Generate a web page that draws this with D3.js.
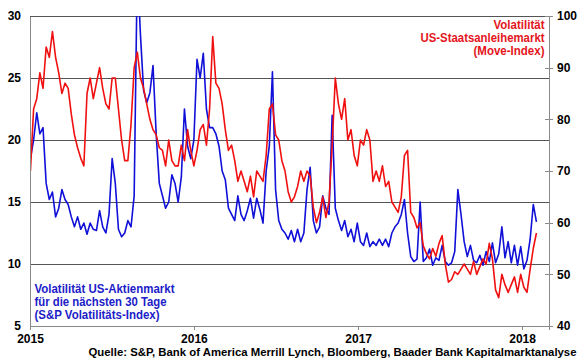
<!DOCTYPE html>
<html><head><meta charset="utf-8">
<script src="https://cdn.jsdelivr.net/npm/d3@7"></script>
<style>
body{margin:0;background:#fff}
svg text{font-family:"Liberation Sans",Arial,sans-serif;font-weight:bold}
</style>
</head><body>
<svg id="chart" width="580" height="359"></svg>
<script>
// ---------- data (weekly, starting 2015-01-02) ----------
const startDate = "2015-01-02";
const vixValues = [
18.5,20.0,22.2,20.5,21.0,16.5,15.2,15.8,13.8,14.5,
16.0,15.2,14.8,13.8,13.0,13.8,12.8,13.3,12.4,13.3,
12.8,12.7,14.3,13.0,12.5,14.0,18.5,16.5,12.8,12.2,
12.5,13.5,13.0,15.5,34.0,28.5,24.0,23.0,23.8,26.0,
20.5,16.5,15.5,14.5,15.0,17.2,16.5,15.0,17.0,22.5,
19.5,18.5,20.0,26.5,25.0,27.0,22.5,21.0,21.0,20.5,
19.5,17.5,16.8,14.5,14.0,13.5,15.5,14.0,13.5,14.3,
15.3,13.7,15.3,14.4,13.3,17.5,19.5,25.5,16.0,13.5,
12.8,12.5,12.0,12.7,11.8,12.8,11.8,12.5,16.0,17.8,
13.5,12.5,13.0,15.5,14.5,14.0,22.0,14.5,13.5,12.7,
13.5,12.2,12.8,11.8,13.3,11.8,11.5,12.5,11.4,11.8,
11.5,12.0,11.5,12.0,11.4,12.5,13.0,13.3,14.0,15.2,
12.5,10.6,10.2,10.4,15.0,10.2,10.5,11.2,9.9,10.5,
10.3,11.5,10.2,9.9,10.1,11.0,16.0,14.0,11.8,10.6,
11.5,10.3,10.1,10.7,9.9,11.0,10.2,11.7,10.1,10.8,
13.0,10.5,11.8,10.1,11.5,9.9,11.4,9.6,10.3,12.0,
14.8,13.4
];
const moveValues = [
70,82,84,89,86,94,92,97,92,89,
85,87,86,81,77,74.5,72.5,71,85,88,
84,87,90,86,83,82,88,88,82,76,
72,72,79,90,93,88,86,83,80,78,
77,74.5,74,71,76,72,71,71,75,72,
78,74,71,74,78,79,75,82,96,87,
86,83,78,74,75,72,68,70,68,66,
69,65,70,69,68,73,82,83,77,76,
72,70,66,64,65,67,70,68,70,69,
63,60,62,65,61,64,75,88,83,80,
84,76,78,73,71,76,75,78,76,68,
70,68,71,67,68,64,63,62,65,73,
74,62,61,59,60,55.5,54,53,55,53.5,
56,57.5,52,48.5,49,50.5,50,51,52,51,
50,52.5,50,51.5,53,52,56,53,47,45.5,
50,48,46.5,48,49.5,46.5,50,47.5,46.5,51,
55,58
];
const leftTicks = [5,10,15,20,25,30];
const rightTicks = [40,50,60,70,80,90,100];
const yearTicks = ["2015-01-01","2016-01-01","2017-01-01","2018-01-01"];
const legendVix = ["Volatilität US-Aktienmarkt","für die nächsten 30 Tage","(S&P Volatilitäts-Index)"];
const legendMove = ["Volatilität","US-Staatsanleihemarkt","(Move-Index)"];
const sourceText = "Quelle: S&P, Bank of America Merrill Lynch, Bloomberg, Baader Bank Kapitalmarktanalyse";

// ---------- setup ----------
const parse = d3.utcParse("%Y-%m-%d");
const t0 = parse(startDate);
const weekDates = vixValues.map((_, i) => d3.utcDay.offset(t0, 7 * i));

const M = {left: 30, right: 549, top: 16, bottom: 326};
const svg = d3.select("#chart");

const x = d3.scaleUtc().domain([parse("2015-01-01"), parse("2018-03-02")]).range([M.left, M.right]);
const yL = d3.scaleLinear().domain([5, 30]).range([M.bottom, M.top]);
const yR = d3.scaleLinear().domain([40, 100]).range([M.bottom, M.top]);

const BLUE = "#1010d8", RED = "#f01010", GRID = "#555", AXIS = "#8a8a8a";
const FONT = '"Liberation Sans",Arial,sans-serif';

// gridlines
svg.append("g").selectAll("line").data(leftTicks.filter(d => d > 5)).join("line")
  .attr("x1", M.left).attr("x2", M.right)
  .attr("y1", d => yL(d)).attr("y2", d => yL(d))
  .attr("stroke", GRID).attr("stroke-width", 1).attr("shape-rendering", "crispEdges");

// clip
svg.append("clipPath").attr("id", "plotclip").append("rect")
  .attr("x", M.left).attr("y", M.top).attr("width", M.right - M.left).attr("height", M.bottom - M.top);

const lineV = d3.line().x((d, i) => x(weekDates[i])).y(d => yL(d));
const lineM = d3.line().x((d, i) => x(weekDates[i])).y(d => yR(d));

const plot = svg.append("g").attr("clip-path", "url(#plotclip)");
plot.append("path").datum(vixValues).attr("d", lineV)
  .attr("fill", "none").attr("stroke", BLUE).attr("stroke-width", 1.6).attr("stroke-linejoin", "round");
plot.append("path").datum(moveValues).attr("d", lineM)
  .attr("fill", "none").attr("stroke", RED).attr("stroke-width", 1.6).attr("stroke-linejoin", "round");

// left axis
const gL = svg.append("g").attr("transform", `translate(${M.left},0)`)
  .call(d3.axisLeft(yL).tickValues(leftTicks).tickSize(0).tickPadding(9).tickFormat(d3.format("d")));
gL.select(".domain").attr("stroke", AXIS).attr("shape-rendering", "crispEdges");
gL.selectAll("text").attr("font-size", 12).attr("fill", "#000").attr("dy", "0.28em")
  .style("font-family", FONT).style("font-weight", "bold");

// right axis
const gR = svg.append("g").attr("transform", `translate(${M.right},0)`)
  .call(d3.axisRight(yR).tickValues(rightTicks).tickSize(4).tickPadding(4).tickFormat(d3.format("d")));
gR.select(".domain").attr("stroke", AXIS).attr("shape-rendering", "crispEdges");
gR.selectAll(".tick line").attr("x1", -4).attr("x2", 4).attr("stroke", AXIS).attr("shape-rendering", "crispEdges");
gR.selectAll("text").attr("font-size", 12).attr("fill", "#000")
  .style("font-family", FONT).style("font-weight", "bold");

// bottom axis
const gB = svg.append("g").attr("transform", `translate(0,${M.bottom})`)
  .call(d3.axisBottom(x).tickValues(yearTicks.map(parse)).tickSize(4).tickPadding(4).tickFormat(d3.utcFormat("%Y")));
gB.select(".domain").attr("stroke", AXIS).attr("shape-rendering", "crispEdges");
gB.selectAll(".tick line").attr("stroke", AXIS).attr("shape-rendering", "crispEdges");
gB.selectAll("text").attr("font-size", 12).attr("fill", "#000")
  .style("font-family", FONT).style("font-weight", "bold");

// legends
const vixWidths = [140, 132, 125];
svg.append("g").selectAll("text").data(legendVix).join("text")
  .attr("x", 34.5).attr("y", (d, i) => 292.5 + i * 13)
  .attr("font-size", 12).attr("fill", "#2020c8")
  .attr("textLength", (d, i) => vixWidths[i]).attr("lengthAdjust", "spacingAndGlyphs")
  .text(d => d);

const moveWidths = [51, 124, 71];
svg.append("g").selectAll("text").data(legendMove).join("text")
  .attr("x", (d, i) => 544.5 - moveWidths[i]).attr("y", (d, i) => 29 + i * 13)
  .attr("font-size", 12).attr("fill", "#e4141c")
  .attr("textLength", (d, i) => moveWidths[i]).attr("lengthAdjust", "spacingAndGlyphs")
  .text(d => d);

// source
svg.append("text").attr("x", 88.5).attr("y", 355.5)
  .attr("font-size", 11).attr("fill", "#000")
  .attr("textLength", 488).attr("lengthAdjust", "spacingAndGlyphs")
  .text(sourceText);
</script>
</body></html>
